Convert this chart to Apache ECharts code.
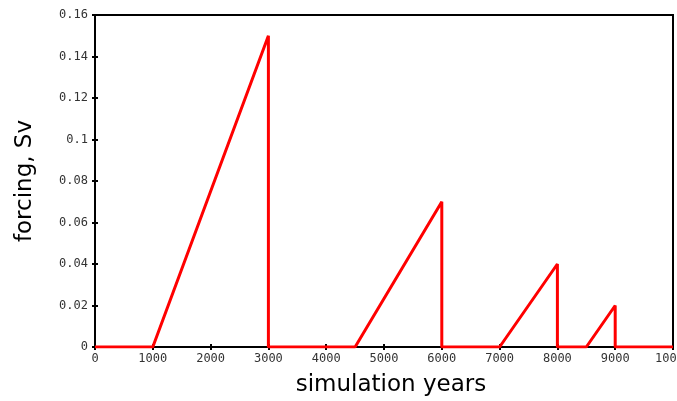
<!DOCTYPE html>
<html>
<head>
<meta charset="utf-8">
<script src="https://cdn.jsdelivr.net/npm/echarts@6/dist/echarts.min.js"></script>
<style>
  html, body { margin: 0; padding: 0; background: #fff; }
  #chart { width: 677px; height: 401px; }
</style>
</head>
<body>
<div id="chart"></div>
<script>
// forcing pulses: ramp up, then drop straight back to zero
const years = [0, 1000, 3000, 3000, 4500, 6000, 6000, 7000, 8000, 8000, 8500, 9000, 9000, 10000];
const forcing = [0, 0, 0.15, 0, 0, 0.07, 0, 0, 0.04, 0, 0, 0.02, 0, 0];

const chart = echarts.init(document.getElementById('chart'));

const tickFont = { fontFamily: 'DejaVu Sans Mono', fontSize: 12, color: '#333' };
const ticks = { show: true, inside: true, length: 3, lineStyle: { color: '#000', width: 2 } };
const titleFont = { fontFamily: 'DejaVu Sans', fontSize: 23, color: '#000' };

chart.setOption({
  animation: false,
  grid: {
    left: 95, right: 4, top: 15, bottom: 54,
    containLabel: false, outerBoundsMode: 'none',
    show: true, borderColor: '#000', borderWidth: 2
  },
  xAxis: [{
    type: 'value', min: 0, max: 10000, interval: 1000,
    name: 'simulation years', nameLocation: 'middle', nameGap: 27,
    nameTextStyle: Object.assign({ padding: [0, 0, 0, 14] }, titleFont),
    axisLine: { show: true, lineStyle: { color: '#000', width: 2 } },
    axisTick: ticks,
    axisLabel: Object.assign({ margin: 6, showMaxLabel: true, formatter: v => String(v) }, tickFont),
    splitLine: { show: false }
  }, {
    type: 'value', position: 'top', min: 0, max: 10000, interval: 1000,
    axisLine: { show: false }, axisTick: ticks, axisLabel: { show: false }, splitLine: { show: false }
  }],
  yAxis: [{
    type: 'value', min: 0, max: 0.16, interval: 0.02,
    name: 'forcing, Sv', nameLocation: 'middle', nameGap: 58,
    nameTextStyle: titleFont,
    axisLine: { show: true, lineStyle: { color: '#000', width: 2 } },
    axisTick: ticks,
    axisLabel: Object.assign({ margin: 7 }, tickFont),
    splitLine: { show: false }
  }, {
    type: 'value', position: 'right', min: 0, max: 0.16, interval: 0.02,
    axisLine: { show: false }, axisTick: ticks, axisLabel: { show: false }, splitLine: { show: false }
  }],
  series: [{
    type: 'line',
    data: years.map((y, i) => [y, forcing[i]]),
    showSymbol: false,
    lineStyle: { color: '#ff0000', width: 3 },
    z: 5
  }]
});
</script>
</body>
</html>
